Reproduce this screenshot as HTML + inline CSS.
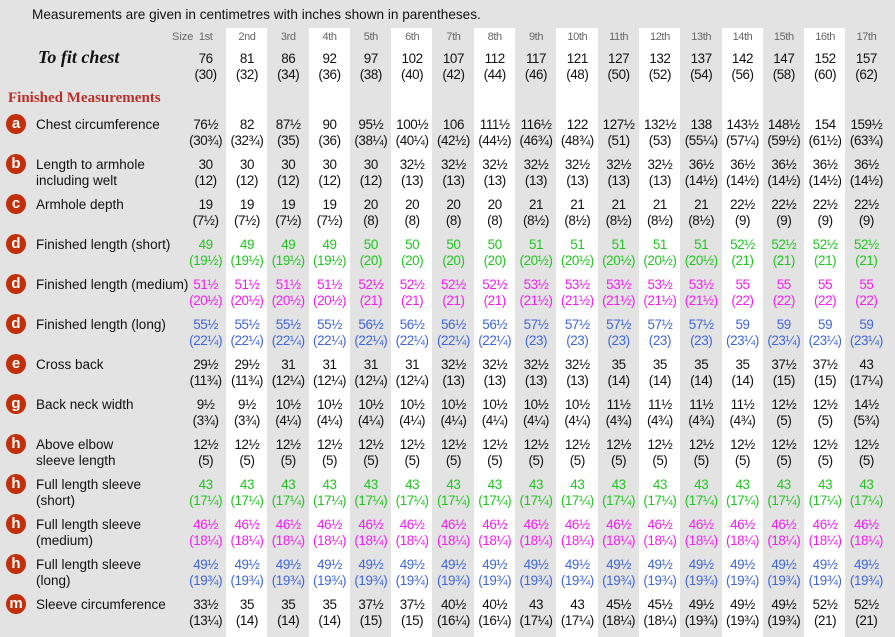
<!DOCTYPE html>
<html><head><meta charset="utf-8"><style>
body{margin:0;width:895px;height:637px;background:#e3e3e3;position:relative;overflow:hidden;font-family:"Liberation Sans",sans-serif;color:#111}
.wc{position:absolute;top:28px;bottom:0;width:41.3px;background:#fff}
.title{position:absolute;left:32px;top:7px;font-size:13.6px}
.hdr{position:absolute;left:185px;top:29px;display:flex;font-size:11px;color:#666;line-height:16px}
.r{position:absolute;left:185px;display:flex;font-size:13.4px;line-height:16px}
.r i,.hdr i{font-style:normal;width:41.3px;text-align:center;white-space:nowrap;letter-spacing:-0.4px}
.lab{position:absolute;left:36px;font-size:13.5px;line-height:16px}
.bd{position:absolute;left:6px;width:20px;height:20px;border-radius:50%;background:#c0300a;color:#fff;font-weight:bold;font-size:15px;line-height:19px;text-align:center}
.g{color:#22c422}.m{color:#f020f0}.b{color:#4066d8}
</style></head><body>
<div class="wc" style="left:226px"></div><div class="wc" style="left:308.6px"></div><div class="wc" style="left:391.2px"></div><div class="wc" style="left:473.8px"></div><div class="wc" style="left:556.4px"></div><div class="wc" style="left:639px"></div><div class="wc" style="left:721.6px"></div><div class="wc" style="left:804.2px"></div>
<div class="title">Measurements are given in centimetres with inches shown in parentheses.</div>
<div style="position:absolute;left:172px;top:29px;font-size:11px;color:#666;line-height:16px">Size</div>
<div class="hdr"><i>1st</i><i>2nd</i><i>3rd</i><i>4th</i><i>5th</i><i>6th</i><i>7th</i><i>8th</i><i>9th</i><i>10th</i><i>11th</i><i>12th</i><i>13th</i><i>14th</i><i>15th</i><i>16th</i><i>17th</i></div>
<div style="position:absolute;left:38px;top:47px;font-family:'Liberation Serif',serif;font-style:italic;font-weight:bold;font-size:18px">To fit chest</div>
<div class="r" style="top:51px"><i>76<br>(30)</i><i>81<br>(32)</i><i>86<br>(34)</i><i>92<br>(36)</i><i>97<br>(38)</i><i>102<br>(40)</i><i>107<br>(42)</i><i>112<br>(44)</i><i>117<br>(46)</i><i>121<br>(48)</i><i>127<br>(50)</i><i>132<br>(52)</i><i>137<br>(54)</i><i>142<br>(56)</i><i>147<br>(58)</i><i>152<br>(60)</i><i>157<br>(62)</i></div>
<div style="position:absolute;left:8px;top:90px;font-family:'Liberation Serif',serif;font-weight:bold;font-size:15px;color:#b8302a">Finished Measurements</div>

<div class="bd" style="top:114px">a</div><div class="lab" style="top:117px">Chest circumference</div>
<div class="r" style="top:117px"><i>76½<br>(30¾)</i><i>82<br>(32¾)</i><i>87½<br>(35)</i><i>90<br>(36)</i><i>95½<br>(38¼)</i><i>100½<br>(40¼)</i><i>106<br>(42½)</i><i>111½<br>(44½)</i><i>116½<br>(46¾)</i><i>122<br>(48¾)</i><i>127½<br>(51)</i><i>132½<br>(53)</i><i>138<br>(55¼)</i><i>143½<br>(57¼)</i><i>148½<br>(59½)</i><i>154<br>(61½)</i><i>159½<br>(63¾)</i></div>

<div class="bd" style="top:154px">b</div><div class="lab" style="top:157px">Length to armhole<br>including welt</div>
<div class="r" style="top:157px"><i>30<br>(12)</i><i>30<br>(12)</i><i>30<br>(12)</i><i>30<br>(12)</i><i>30<br>(12)</i><i>32½<br>(13)</i><i>32½<br>(13)</i><i>32½<br>(13)</i><i>32½<br>(13)</i><i>32½<br>(13)</i><i>32½<br>(13)</i><i>32½<br>(13)</i><i>36½<br>(14½)</i><i>36½<br>(14½)</i><i>36½<br>(14½)</i><i>36½<br>(14½)</i><i>36½<br>(14½)</i></div>

<div class="bd" style="top:194px">c</div><div class="lab" style="top:197px">Armhole depth</div>
<div class="r" style="top:197px"><i>19<br>(7½)</i><i>19<br>(7½)</i><i>19<br>(7½)</i><i>19<br>(7½)</i><i>20<br>(8)</i><i>20<br>(8)</i><i>20<br>(8)</i><i>20<br>(8)</i><i>21<br>(8½)</i><i>21<br>(8½)</i><i>21<br>(8½)</i><i>21<br>(8½)</i><i>21<br>(8½)</i><i>22½<br>(9)</i><i>22½<br>(9)</i><i>22½<br>(9)</i><i>22½<br>(9)</i></div>

<div class="bd" style="top:234px">d</div><div class="lab" style="top:237px">Finished length (short)</div>
<div class="r g" style="top:237px"><i>49<br>(19½)</i><i>49<br>(19½)</i><i>49<br>(19½)</i><i>49<br>(19½)</i><i>50<br>(20)</i><i>50<br>(20)</i><i>50<br>(20)</i><i>50<br>(20)</i><i>51<br>(20½)</i><i>51<br>(20½)</i><i>51<br>(20½)</i><i>51<br>(20½)</i><i>51<br>(20½)</i><i>52½<br>(21)</i><i>52½<br>(21)</i><i>52½<br>(21)</i><i>52½<br>(21)</i></div>

<div class="bd" style="top:274px">d</div><div class="lab" style="top:277px">Finished length (medium)</div>
<div class="r m" style="top:277px"><i>51½<br>(20½)</i><i>51½<br>(20½)</i><i>51½<br>(20½)</i><i>51½<br>(20½)</i><i>52½<br>(21)</i><i>52½<br>(21)</i><i>52½<br>(21)</i><i>52½<br>(21)</i><i>53½<br>(21½)</i><i>53½<br>(21½)</i><i>53½<br>(21½)</i><i>53½<br>(21½)</i><i>53½<br>(21½)</i><i>55<br>(22)</i><i>55<br>(22)</i><i>55<br>(22)</i><i>55<br>(22)</i></div>

<div class="bd" style="top:314px">d</div><div class="lab" style="top:317px">Finished length (long)</div>
<div class="r b" style="top:317px"><i>55½<br>(22¼)</i><i>55½<br>(22¼)</i><i>55½<br>(22¼)</i><i>55½<br>(22¼)</i><i>56½<br>(22¼)</i><i>56½<br>(22¼)</i><i>56½<br>(22¼)</i><i>56½<br>(22¼)</i><i>57½<br>(23)</i><i>57½<br>(23)</i><i>57½<br>(23)</i><i>57½<br>(23)</i><i>57½<br>(23)</i><i>59<br>(23¼)</i><i>59<br>(23¼)</i><i>59<br>(23¼)</i><i>59<br>(23¼)</i></div>

<div class="bd" style="top:354px">e</div><div class="lab" style="top:357px">Cross back</div>
<div class="r" style="top:357px"><i>29½<br>(11¾)</i><i>29½<br>(11¾)</i><i>31<br>(12¼)</i><i>31<br>(12¼)</i><i>31<br>(12¼)</i><i>31<br>(12¼)</i><i>32½<br>(13)</i><i>32½<br>(13)</i><i>32½<br>(13)</i><i>32½<br>(13)</i><i>35<br>(14)</i><i>35<br>(14)</i><i>35<br>(14)</i><i>35<br>(14)</i><i>37½<br>(15)</i><i>37½<br>(15)</i><i>43<br>(17¼)</i></div>

<div class="bd" style="top:394px">g</div><div class="lab" style="top:397px">Back neck width</div>
<div class="r" style="top:397px"><i>9½<br>(3¾)</i><i>9½<br>(3¾)</i><i>10½<br>(4¼)</i><i>10½<br>(4¼)</i><i>10½<br>(4¼)</i><i>10½<br>(4¼)</i><i>10½<br>(4¼)</i><i>10½<br>(4¼)</i><i>10½<br>(4¼)</i><i>10½<br>(4¼)</i><i>11½<br>(4¾)</i><i>11½<br>(4¾)</i><i>11½<br>(4¾)</i><i>11½<br>(4¾)</i><i>12½<br>(5)</i><i>12½<br>(5)</i><i>14½<br>(5¾)</i></div>

<div class="bd" style="top:434px">h</div><div class="lab" style="top:437px">Above elbow<br>sleeve length</div>
<div class="r" style="top:437px"><i>12½<br>(5)</i><i>12½<br>(5)</i><i>12½<br>(5)</i><i>12½<br>(5)</i><i>12½<br>(5)</i><i>12½<br>(5)</i><i>12½<br>(5)</i><i>12½<br>(5)</i><i>12½<br>(5)</i><i>12½<br>(5)</i><i>12½<br>(5)</i><i>12½<br>(5)</i><i>12½<br>(5)</i><i>12½<br>(5)</i><i>12½<br>(5)</i><i>12½<br>(5)</i><i>12½<br>(5)</i></div>

<div class="bd" style="top:474px">h</div><div class="lab" style="top:477px">Full length sleeve<br>(short)</div>
<div class="r g" style="top:477px"><i>43<br>(17¼)</i><i>43<br>(17¼)</i><i>43<br>(17¼)</i><i>43<br>(17¼)</i><i>43<br>(17¼)</i><i>43<br>(17¼)</i><i>43<br>(17¼)</i><i>43<br>(17¼)</i><i>43<br>(17¼)</i><i>43<br>(17¼)</i><i>43<br>(17¼)</i><i>43<br>(17¼)</i><i>43<br>(17¼)</i><i>43<br>(17¼)</i><i>43<br>(17¼)</i><i>43<br>(17¼)</i><i>43<br>(17¼)</i></div>

<div class="bd" style="top:514px">h</div><div class="lab" style="top:517px">Full length sleeve<br>(medium)</div>
<div class="r m" style="top:517px"><i>46½<br>(18¼)</i><i>46½<br>(18¼)</i><i>46½<br>(18¼)</i><i>46½<br>(18¼)</i><i>46½<br>(18¼)</i><i>46½<br>(18¼)</i><i>46½<br>(18¼)</i><i>46½<br>(18¼)</i><i>46½<br>(18¼)</i><i>46½<br>(18¼)</i><i>46½<br>(18¼)</i><i>46½<br>(18¼)</i><i>46½<br>(18¼)</i><i>46½<br>(18¼)</i><i>46½<br>(18¼)</i><i>46½<br>(18¼)</i><i>46½<br>(18¼)</i></div>

<div class="bd" style="top:554px">h</div><div class="lab" style="top:557px">Full length sleeve<br>(long)</div>
<div class="r b" style="top:557px"><i>49½<br>(19¾)</i><i>49½<br>(19¾)</i><i>49½<br>(19¾)</i><i>49½<br>(19¾)</i><i>49½<br>(19¾)</i><i>49½<br>(19¾)</i><i>49½<br>(19¾)</i><i>49½<br>(19¾)</i><i>49½<br>(19¾)</i><i>49½<br>(19¾)</i><i>49½<br>(19¾)</i><i>49½<br>(19¾)</i><i>49½<br>(19¾)</i><i>49½<br>(19¾)</i><i>49½<br>(19¾)</i><i>49½<br>(19¾)</i><i>49½<br>(19¾)</i></div>

<div class="bd" style="top:594px">m</div><div class="lab" style="top:597px">Sleeve circumference</div>
<div class="r" style="top:597px"><i>33½<br>(13¼)</i><i>35<br>(14)</i><i>35<br>(14)</i><i>35<br>(14)</i><i>37½<br>(15)</i><i>37½<br>(15)</i><i>40½<br>(16¼)</i><i>40½<br>(16¼)</i><i>43<br>(17¼)</i><i>43<br>(17¼)</i><i>45½<br>(18¼)</i><i>45½<br>(18¼)</i><i>49½<br>(19¾)</i><i>49½<br>(19¾)</i><i>49½<br>(19¾)</i><i>52½<br>(21)</i><i>52½<br>(21)</i></div>
</body></html>
